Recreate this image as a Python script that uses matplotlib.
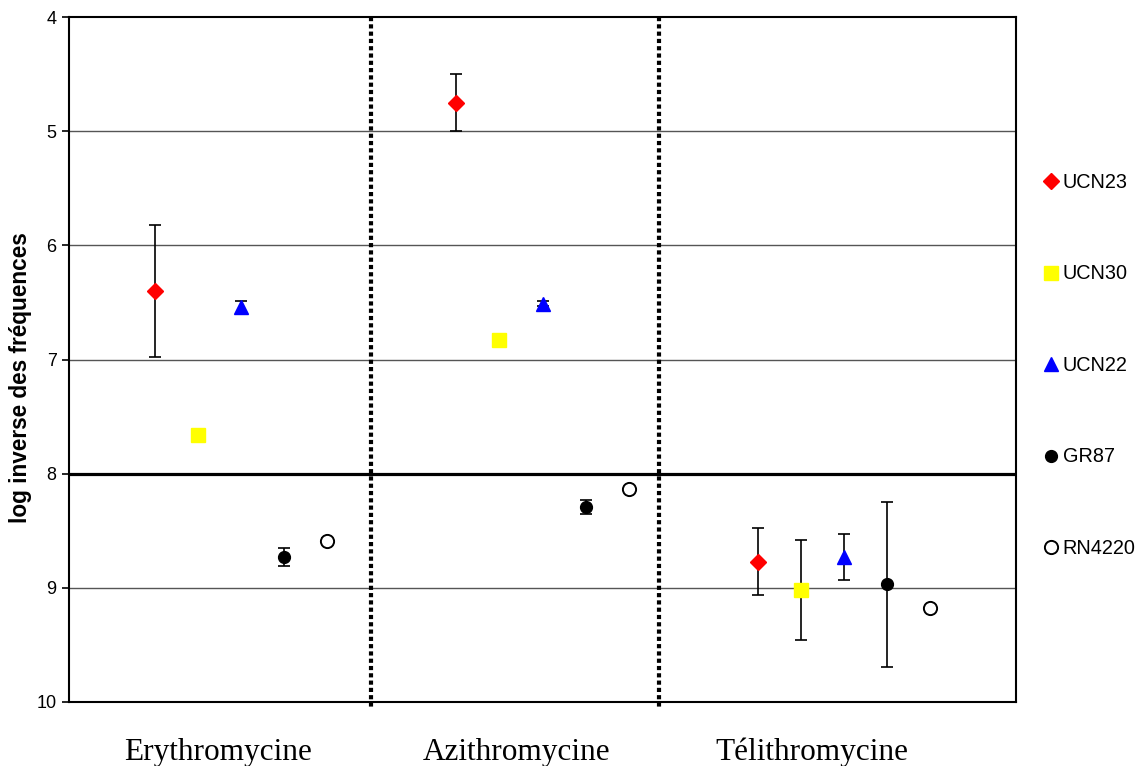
import matplotlib
matplotlib.use("Agg")
import numpy as np
import matplotlib.pyplot as plt

plt.rcParams["font.family"] = ["Liberation Sans", "DejaVu Sans"]

# values (log inverse of mutation frequency)
antibiotics = ["Erythromycine", "Azithromycine", "Télithromycine"]
strains = ["UCN23", "UCN30", "UCN22", "GR87", "RN4220"]

ucn23 = [6.40, 4.75, 8.77]
ucn23_err = [0.58, 0.25, 0.29]
ucn30 = [7.66, 6.83, 9.02]
ucn30_err = [0.04, 0.02, 0.44]
ucn22 = [6.54, 6.51, 8.73]
ucn22_err = [0.05, 0.02, 0.20]
gr87 = [8.73, 8.29, 8.97]
gr87_err = [0.08, 0.06, 0.72]
rn4220 = [8.59, 8.13, 9.18]
rn4220_err = [0.03, 0.0, 0.0]

values = [ucn23, ucn30, ucn22, gr87, rn4220]
errors = [ucn23_err, ucn30_err, ucn22_err, gr87_err, rn4220_err]

# x slots: strains at 2..6, 9..13, 16..20
group_start = [2, 9, 16]
separators = [7.02, 13.7]
label_pos = [3.47, 10.4, 17.26]

styles = [
    dict(marker="D", ms=8.5, mfc="#ff0000", mec="#ff0000"),
    dict(marker="s", ms=10, mfc="#ffff00", mec="#ffff00"),
    dict(marker="^", ms=10, mfc="#0000ff", mec="#0000ff"),
    dict(marker="o", ms=8.5, mfc="black", mec="black"),
    dict(marker="o", ms=9.5, mfc="white", mec="black", mew=1.4),
]

fig = plt.figure(figsize=(11.39, 7.66), dpi=100)
ax = fig.add_axes([69 / 1139, 64 / 766, 947 / 1139, 685 / 766])

for y in [5, 6, 7, 9]:
    ax.axhline(y, color="#555555", lw=1.0, zorder=1)
ax.axhline(8, color="black", lw=2.3, zorder=2)
for xs in separators:
    ax.plot([xs, xs], [4, 10.06], color="black", lw=3, ls=(0, (1, 0.75)),
            clip_on=False, zorder=2)

handles = []
for i, name in enumerate(strains):
    xs = [g + i for g in group_start]
    ax.errorbar(xs, values[i], yerr=errors[i], fmt="none", ecolor="black",
                elinewidth=1.2, capsize=4, capthick=1.2, zorder=3)
    h, = ax.plot(xs, values[i], ls="none", zorder=4, label=name, **styles[i])
    handles.append(h)

ax.set_xlim(0, 22)
ax.set_ylim(10, 4)
ax.set_xticks([])
ax.set_yticks([4, 5, 6, 7, 8, 9, 10])
ax.tick_params(axis="y", direction="out", length=5, width=1.2, labelsize=13, pad=4)
for sp in ax.spines.values():
    sp.set_linewidth(1.5)
    sp.set_color("black")
ax.set_ylabel("log inverse des fréquences", fontsize=16.3, fontweight="bold")
ax.yaxis.set_label_coords(-0.039, 0.473)

for xp, name in zip(label_pos, antibiotics):
    ax.text(xp, 10.44, name, ha="center", va="center", fontsize=22.5,
            family="Liberation Serif")

fig.legend(handles=handles, loc="upper left", bbox_to_anchor=(1045 / 1139, 1 - 173 / 766),
           frameon=False, fontsize=14.3, labelspacing=3.65, handlelength=0.6,
           handletextpad=0.3, borderpad=0, borderaxespad=0)

fig.savefig("out.png", dpi=100)
